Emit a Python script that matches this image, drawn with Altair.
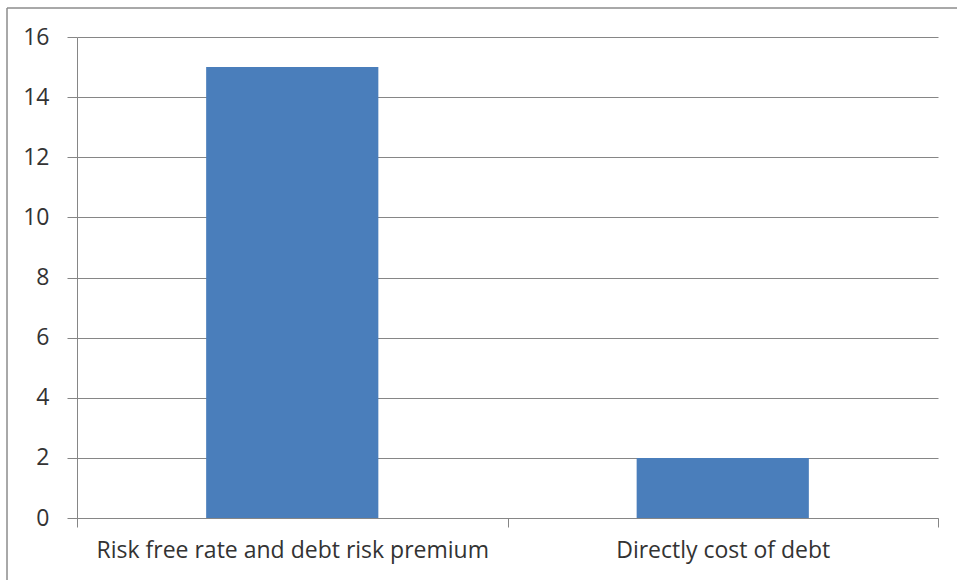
import altair as alt
import pandas as pd

categories = ["Risk free rate and debt risk premium", "Directly cost of debt"]
values = [15, 2]
y_ticks = [0, 2, 4, 6, 8, 10, 12, 14, 16]

df = pd.DataFrame({"category": categories, "value": values})

FONT = "Open Sans"

bars = alt.Chart(df).mark_bar(color="#4A7EBB", width=alt.RelativeBandSize(0.4)).encode(
    x=alt.X("category:N", sort=categories, title=None,
            scale=alt.Scale(paddingInner=0, paddingOuter=0),
            axis=alt.Axis(labelAngle=0, labelFont=FONT, labelFontSize=23,
                          labelColor="#333333", tickBand="extent", tickSize=9,
                          tickColor="#868686", domainColor="#868686",
                          labelPadding=12, labelLimit=0, grid=False)),
    y=alt.Y("value:Q", title=None,
            scale=alt.Scale(domain=[0, 16], nice=False),
            axis=alt.Axis(values=y_ticks, labelFont=FONT, labelFontSize=23,
                          labelColor="#333333", tickSize=10, tickColor="#868686",
                          domainColor="#868686", gridColor="#868686",
                          labelPadding=18, grid=True)),
)

border_top = alt.Chart(df).mark_rule(color="#8c8c8c", strokeWidth=1, clip=False).encode(
    x=alt.value(-70), x2=alt.value(900), y=alt.value(-29)
)
border_left = alt.Chart(df).mark_rule(color="#8c8c8c", strokeWidth=1, clip=False).encode(
    x=alt.value(-70), y=alt.value(-29), y2=alt.value(560)
)

chart = alt.layer(bars, border_top, border_left).properties(
    width=861, height=481,
    padding={"left": 77, "top": 37, "right": 19, "bottom": 62},
    autosize=alt.AutoSizeParams(type="none"),
    background="white",
).configure_view(stroke=None)

chart.save("out.html", embed_options={"renderer": "svg", "actions": False})
